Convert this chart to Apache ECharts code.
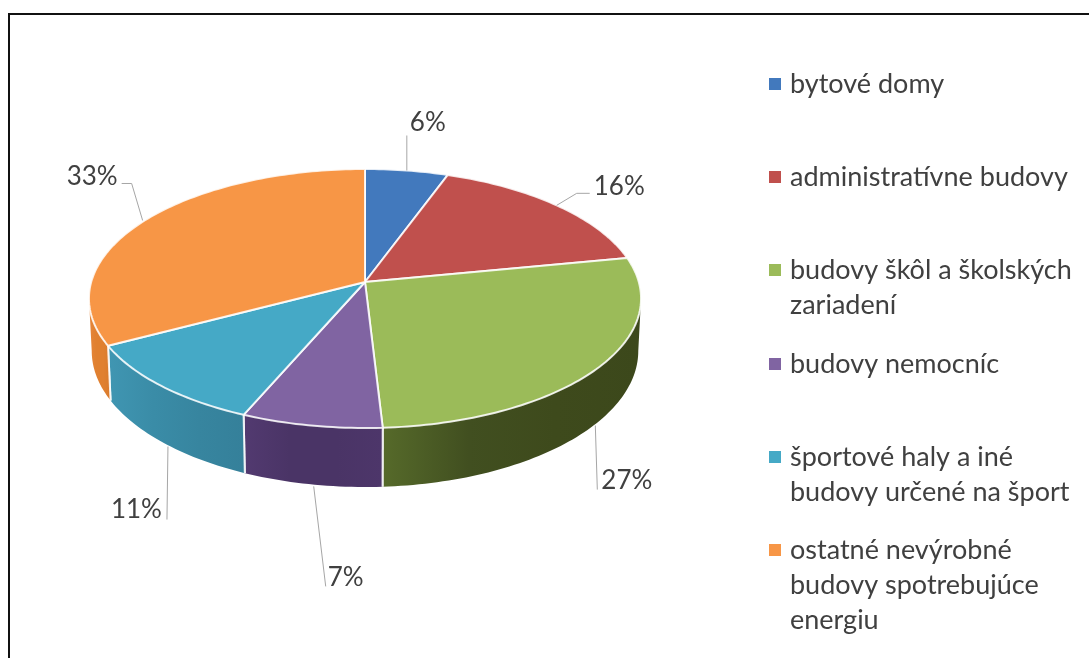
<!DOCTYPE html>
<html>
<head>
<meta charset="utf-8">
<style>html,body{margin:0;padding:0;background:#fff}#c{width:1089px;height:658px}</style>
<script src="https://cdn.jsdelivr.net/npm/echarts@6/dist/echarts.min.js"></script>
</head>
<body>
<div id="c"></div>
<script>
// --- data ---
const categories = ['bytové domy','administratívne budovy','budovy škôl a školských zariadení','budovy nemocníc','športové haly a iné budovy určené na šport','ostatné nevýrobné budovy spotrebujúce energiu'];
const shares = [5.5,16.4,27.2,7.3,10.8,32.8];
const legendLines = [['bytové domy'],['administratívne budovy'],['budovy škôl a školských','zariadení'],['budovy nemocníc'],['športové haly a iné','budovy určené na šport'],['ostatné nevýrobné','budovy spotrebujúce','energiu']];
// --- style ---
const topColors = ['#4279bd','#c0504d','#9bbb59','#8064a2','#45a9c6','#f79646'];
const wallStops = [
  ['#2c4d77','#2c4d77'],['#7a302e','#7a302e'],
  ['#566a2a','#414f20','#3e4a1c','#3c481b'],
  ['#523a70','#4a3466','#4a3466','#4d366a'],
  ['#4096b2','#3a8ca7','#37859f','#35809a'],
  ['#e6863a','#e08030','#e08030','#d97a2c']
];
// --- layout ---
const CX=365, CY=282, R=273.8, A=127.4, K=0.1274, DEPTH=51.5, INSET=0.99;
const TOP_FIRST=[84,177,270,364,457,550];
const LINE=35, FONT='Lato';
// leader polyline points and label placement, as offsets from the slice's rim anchor
const leaders=[
 {pts:[[0,0],[0,-35]],lab:[3,-48,'left']},
 {pts:[[0,0],[20,-12],[33,-12]],lab:[37,-19,'left']},
 {pts:[[-2,3],[0,67]],lab:[4,58,'left']},
 {pts:[[2,2],[14,102]],lab:[16,93,'left']},
 {pts:[[5,4],[4,77]],lab:[-1,67,'right']},
 {pts:[[-2,0],[-13,-37],[-23,-37]],lab:[-27,-44,'right']}
];
const TMIN=Math.acos(-K), TMAX=2*Math.PI-TMIN;
function rim(t){
  const u=Math.sin(t),v=Math.cos(t),s=1/(1+K*v);
  return {x:CX+R*u*s,y:CY-A*v*s,s:s};
}
function low(t){
  const p=rim(t);
  return [CX+(p.x-CX)*INSET,p.y+DEPTH*p.s];
}
const total=shares.reduce((a,b)=>a+b,0);
let run=0;
const starts=shares.map(v=>{const s=run;run+=v;return s;});
function toAngle(v){return v/total*2*Math.PI;}
function samples(a,b){
  const n=Math.max(2,Math.ceil((b-a)/0.02)),out=[];
  for(let i=0;i<=n;i++)out.push(a+(b-a)*i/n);
  return out;
}
function render(idx){
  return function(params,api){
    const value=api.value(0);
    const a=toAngle(starts[idx]),b=a+toAngle(value);
    const children=[];
    const wa=Math.max(a,TMIN),wb=Math.min(b,TMAX);
    if(wb>wa){
      const ts=samples(wa,wb);
      const upper=ts.map(t=>{const p=rim(t);return [p.x,p.y];});
      const lower=ts.map(low).reverse();
      const stops=wallStops[idx].map((c,i,arr)=>({offset:i/(arr.length-1),color:c}));
      children.push({type:'polygon',shape:{points:upper.concat(lower)},
        style:{fill:new echarts.graphic.LinearGradient(0,0,1,0,stops)},silent:true});
      [a,b].forEach(t=>{
        if(t>=TMIN&&t<=TMAX){
          const p=rim(t),q=low(t);
          children.push({type:'line',shape:{x1:p.x,y1:p.y,x2:q[0],y2:q[1]},
            style:{stroke:'rgba(255,255,255,0.85)',lineWidth:2},silent:true});
        }
      });
    }
    const face=[[CX,CY]].concat(samples(a,b).map(t=>{const p=rim(t);return [p.x,p.y];}));
    children.push({type:'polygon',shape:{points:face},
      style:{fill:topColors[idx],stroke:'rgba(255,255,255,0.85)',lineWidth:2,lineJoin:'round'},silent:true});
    // leader + label
    const mid=(a+b)/2,m=rim(mid);
    let ax=m.x,ay=m.y;
    if(mid>TMIN&&mid<TMAX){const q=low(mid);ax=q[0];ay=q[1];}
    const L=leaders[idx];
    children.push({type:'polyline',shape:{points:L.pts.map(o=>[ax+o[0],ay+o[1]])},
      style:{stroke:'#a6a6a6',lineWidth:1,fill:'none'},silent:true,z2:20});
    children.push({type:'text',x:ax+L.lab[0],y:ay+L.lab[1],z2:21,silent:true,
      style:{text:Math.round(value/total*100)+'%',font:'26px '+FONT,fill:'#404040',align:L.lab[2],verticalAlign:'middle'}});
    return {type:'group',children:children};
  };
}
const series=categories.map((name,i)=>({
  type:'custom',name:name,coordinateSystem:'none',animation:false,
  itemStyle:{color:topColors[i]},data:[[shares[i]]],renderItem:render(i),silent:true
}));
const legends=categories.map((name,i)=>{
  const n=legendLines[i].length,h=n*LINE;
  return {
    data:[name],left:769,top:TOP_FIRST[i]-LINE/2,orient:'vertical',padding:0,selectedMode:false,
    itemWidth:12,itemHeight:h,itemGap:0,
    icon:'path://M0 0L12 0M0 '+h+'L12 '+h+'M0 11.5L12 11.5L12 23.5L0 23.5Z',
    itemStyle:{color:topColors[i],borderWidth:0},
    textStyle:{fontFamily:FONT,fontSize:27,lineHeight:LINE,color:'#404040',padding:[0,0,0,4]},
    formatter:function(){return legendLines[i].join('\n');}
  };
});
const chart=echarts.init(document.getElementById('c'),null,{renderer:'canvas'});
chart.setOption({
  animation:false,backgroundColor:'#fff',
  legend:legends,series:series,tooltip:{show:false},
  graphic:[{type:'rect',silent:true,shape:{x:9,y:14,width:1300,height:900},style:{fill:'none',stroke:'#111',lineWidth:2}}]
});
</script>
</body>
</html>
